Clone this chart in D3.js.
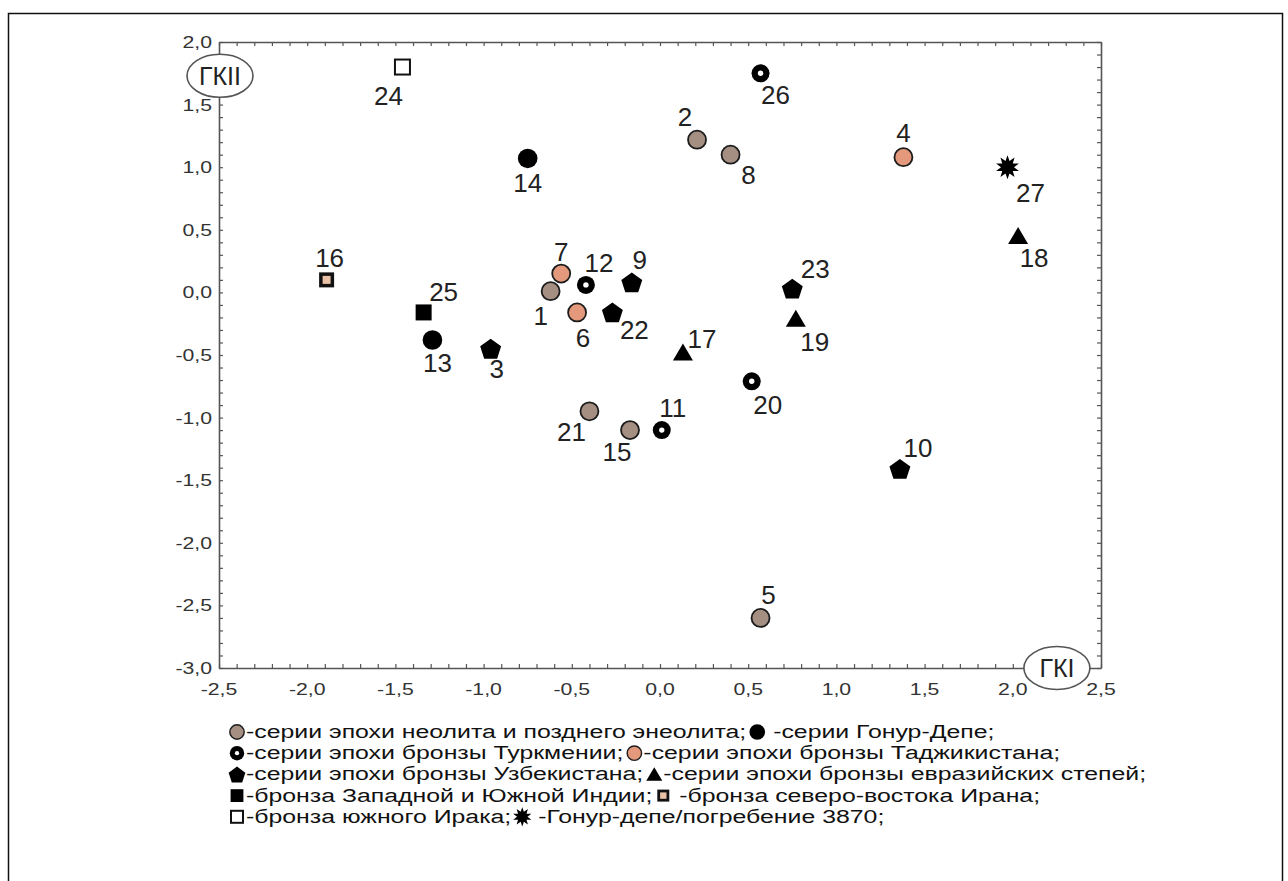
<!DOCTYPE html>
<html><head><meta charset="utf-8">
<script src="https://cdn.jsdelivr.net/npm/d3@7"></script>
<style>
html,body{margin:0;padding:0;background:#fff;}
svg{display:block;}
text{font-family:"Liberation Sans",Arial,sans-serif;}
</style></head>
<body>
<svg id="chart" width="1288" height="881"></svg>
<script>
// ---------- data ----------
const ids    = [1,2,3,4,5,6,7,8,9,10,11,12,13,14,15,16,17,18,19,20,21,22,23,24,25,26,27];
const groups = ["neo","neo","uzb","taj","neo","taj","taj","neo","uzb","uzb","turk","turk","gonur","gonur","neo","iran","steppe","steppe","steppe","turk","neo","uzb","uzb","iraq","india","turk","burial"];
const gk1    = [-0.62,0.21,-0.96,1.38,0.57,-0.47,-0.56,0.40,-0.16,1.36,0.01,-0.42,-1.29,-0.75,-0.17,-1.89,0.13,2.03,0.77,0.52,-0.40,-0.27,0.75,-1.46,-1.34,0.57,1.97];
const gk2    = [0.01,1.22,-0.45,1.08,-2.60,-0.16,0.15,1.10,0.08,-1.41,-1.10,0.06,-0.38,1.07,-1.10,0.10,-0.48,0.45,-0.21,-0.71,-0.95,-0.16,0.03,1.80,-0.16,1.75,1.00];
// label placement (pixel offset of the label centre from the marker)
const labelDx = [-10,-12,6,0,8,6,0,18,8,18,11,13,5,0,-13,3,19,16,19,16,-18,22,23,-14,20,15,23];
const labelDy = [25,-23,20,-24,-23,26,-22,20,-22,-21,-22,-22,23,25,22,-22,-13,22,23,24,21,18,-20,29,-20,22,26];

const xTicks = [-2.5,-2.0,-1.5,-1.0,-0.5,0.0,0.5,1.0,1.5,2.0,2.5];
const yTicks = [-3.0,-2.5,-2.0,-1.5,-1.0,-0.5,0.0,0.5,1.0,1.5,2.0];
const axisX = "ГКI", axisY = "ГКII";

const legendLines = [
  [["neo","-серии эпохи неолита и позднего энеолита;"],["gonur"," -серии Гонур-Депе;"]],
  [["turk","-серии эпохи бронзы Туркмении;"],["taj","-серии эпохи бронзы Таджикистана;"]],
  [["uzb","-серии эпохи бронзы Узбекистана;"],["steppe","-серии эпохи бронзы евразийских степей;"]],
  [["india","-бронза Западной и Южной Индии;"],["iran"," -бронза северо-востока Ирана;"]],
  [["iraq","-бронза южного Ирака;"],["burial"," -Гонур-депе/погребение 3870;"]]
];

// ---------- layout ----------
const L = 219, R = 1101, T = 42, B = 668;
const svg = d3.select("#chart");
const x = d3.scaleLinear().domain([-2.5,2.5]).range([L,R]);
const y = d3.scaleLinear().domain([-3,2]).range([B,T]);
const fmt = v => d3.format(".1f")(v).replace("−","-").replace(".",",");
const axisCol = "#555";

// outer frame
svg.append("path").attr("d","M8.5,881 V13.5 H1282.5 V881")
  .attr("fill","none").attr("stroke","#111").attr("stroke-width",1.5);

// minor + major ticks on all four sides (inside)
const minor = d3.range(-30,21).map(d=>d/10);
const minorX = d3.range(-25,26).map(d=>d/10);
function axisG(axis, tr){
  const g = svg.append("g").attr("transform",tr).call(axis);
  g.selectAll("text").remove();
  g.select(".domain").attr("stroke",axisCol).attr("stroke-width",1.6);
  g.selectAll(".tick line").attr("stroke",axisCol).attr("stroke-width",1.2);
  return g;
}
axisG(d3.axisBottom(x).tickValues(minorX).tickSizeInner(-4).tickSizeOuter(0), `translate(0,${B})`);
axisG(d3.axisTop(x).tickValues(minorX).tickSizeInner(-4).tickSizeOuter(0), `translate(0,${T})`);
axisG(d3.axisLeft(y).tickValues(minor).tickSizeInner(-4).tickSizeOuter(0), `translate(${L},0)`);
axisG(d3.axisRight(y).tickValues(minor).tickSizeInner(-4).tickSizeOuter(0), `translate(${R},0)`);

// tick labels (slightly horizontally stretched like the original)
const tickFont = 17, tickStretch = 1.25;
svg.append("g").selectAll("text").data(yTicks).join("text")
  .attr("transform", d=>`translate(${L-7},${y(d)+6}) scale(${tickStretch},1)`)
  .attr("text-anchor","end").attr("font-size",tickFont).attr("fill","#333")
  .text(fmt);
svg.append("g").selectAll("text").data(xTicks).join("text")
  .attr("transform", d=>`translate(${x(d)},${B+27}) scale(${tickStretch},1)`)
  .attr("text-anchor","middle").attr("font-size",tickFont).attr("fill","#333")
  .text(fmt);

// axis name ellipses
function axisName(cx, cy, txt){
  const g = svg.append("g").attr("transform",`translate(${cx},${cy})`);
  g.append("ellipse").attr("rx",33).attr("ry",21.5).attr("fill","#fff")
    .attr("stroke",axisCol).attr("stroke-width",1.6);
  g.append("text").attr("text-anchor","middle").attr("y",9).attr("font-size",25)
    .attr("fill","#222").text(txt);
}
axisName(x(-2.5)+1, y(1.73), axisY);
axisName(x(2.25), y(-3), axisX);

// ---------- marker drawing ----------
function pentagon(r){
  return d3.range(5).map(i=>{const a=-Math.PI/2+i*2*Math.PI/5;return [r*Math.cos(a), r*Math.sin(a)+1];});
}
function starPts(ro, ri, n){
  return d3.range(2*n).map(i=>{const a=-Math.PI/2+i*Math.PI/n;const r=i%2?ri:ro;return [r*Math.cos(a), r*Math.sin(a)];});
}
const line = d3.line().curve(d3.curveLinearClosed);
function drawMarker(g, key, s){ // s = scale factor
  switch(key){
    case "neo":
      g.append("circle").attr("r",9*s).attr("fill","#a58f82").attr("stroke","#1c1c1c").attr("stroke-width",1.8*s); break;
    case "taj":
      g.append("circle").attr("r",9*s).attr("fill","#e4997c").attr("stroke","#1c1c1c").attr("stroke-width",1.8*s); break;
    case "gonur":
      g.append("circle").attr("r",9.8*s).attr("fill","#000"); break;
    case "turk":
      g.append("circle").attr("r",9*s).attr("fill","#000");
      g.append("circle").attr("r",2.7*s).attr("fill","#fff"); break;
    case "uzb":
      g.append("path").attr("d",line(pentagon(11*s))).attr("fill","#000"); break;
    case "steppe":
      g.append("path").attr("d",line([[0,-9*s],[10*s,8*s],[-10*s,8*s]])).attr("fill","#000"); break;
    case "india":
      g.append("rect").attr("x",-8*s).attr("y",-8*s).attr("width",16*s).attr("height",16*s).attr("fill","#000"); break;
    case "iran":
      g.append("rect").attr("x",-7.5*s).attr("y",-7.5*s).attr("width",15*s).attr("height",15*s).attr("fill","#111");
      g.append("rect").attr("x",-4*s).attr("y",-4*s).attr("width",8*s).attr("height",8*s).attr("fill","#ebc1a6"); break;
    case "iraq":
      g.append("rect").attr("x",-7.5*s).attr("y",-7.5*s).attr("width",15*s).attr("height",15*s).attr("fill","#fff")
        .attr("stroke","#111").attr("stroke-width",2); break;
    case "burial":
      g.append("path").attr("d",line(starPts(12*s,6.5*s,10))).attr("fill","#000"); break;
  }
}

// ---------- points ----------
const pts = ids.map((id,i)=>({id, g:groups[i], x:gk1[i], y:gk2[i], dx:labelDx[i], dy:labelDy[i]}));
const pg = svg.append("g");
pts.forEach(p=>{
  const g = pg.append("g").attr("transform",`translate(${x(p.x)},${y(p.y)})`);
  drawMarker(g, p.g, 1);
});
pg.selectAll("text.lab").data(pts).join("text").attr("class","lab")
  .attr("x",d=>x(d.x)+d.dx).attr("y",d=>y(d.y)+d.dy+9)
  .attr("text-anchor","middle").attr("font-size",26).attr("fill","#222")
  .text(d=>d.id);

// ---------- legend ----------
const legFont = 18, legStretch = 1.38, legX = 229, legY0 = 738, legStep = 21.2;
const lg = svg.append("g");
legendLines.forEach((items,li)=>{
  let cx = legX;
  const by = legY0 + li*legStep;
  items.forEach(([key,txt])=>{
    const mg = lg.append("g").attr("transform",`translate(${cx+8},${by-6})`);
    drawMarker(mg, key, 0.8);
    cx += 17;
    const t = lg.append("text").attr("font-size",legFont).attr("fill","#111")
      .attr("transform",`translate(${cx},${by}) scale(${legStretch},1)`)
      .attr("xml:space","preserve").style("white-space","pre").text(txt);
    cx += t.node().getComputedTextLength()*legStretch + 3;
  });
});
</script>
</body></html>
